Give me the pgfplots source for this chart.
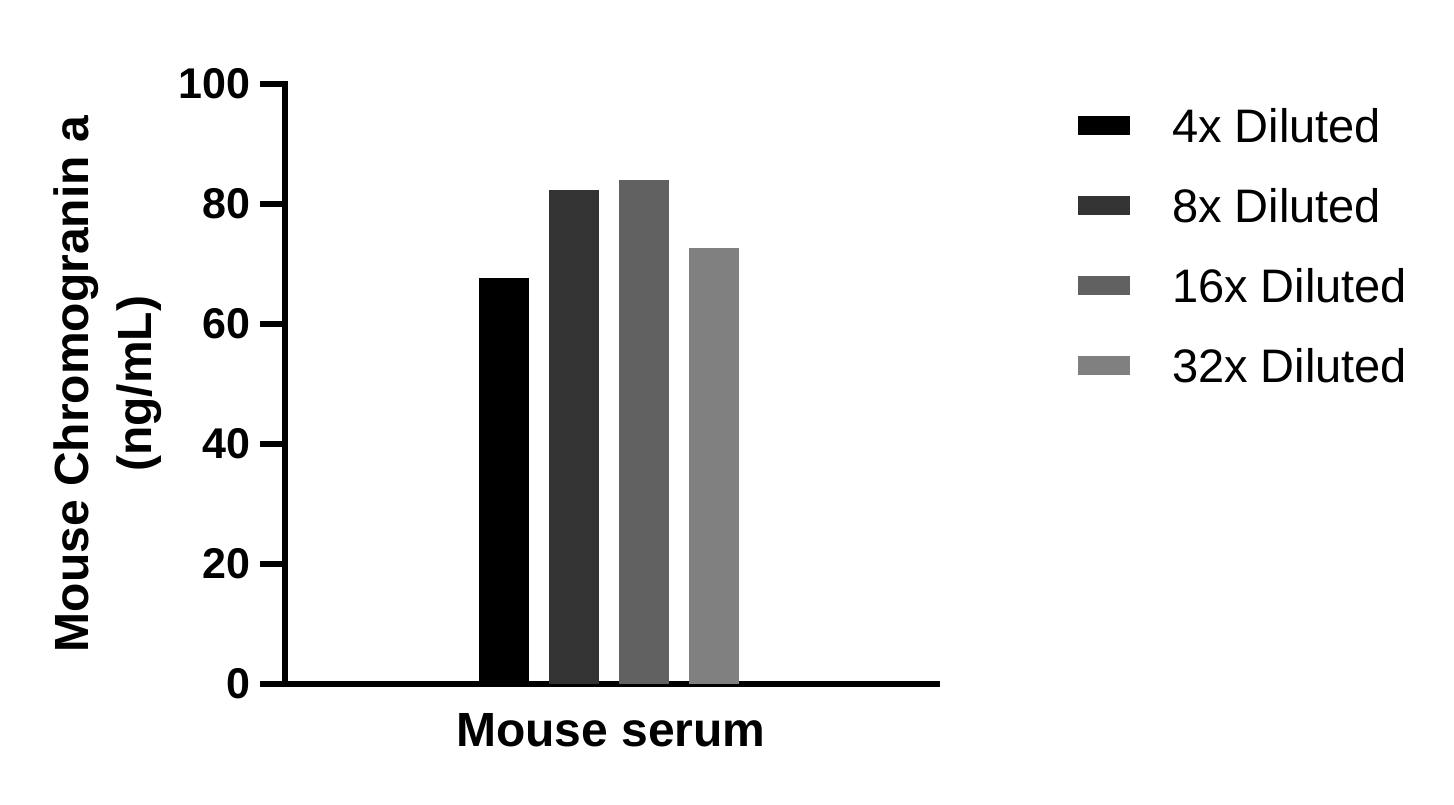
\documentclass[border=0pt]{standalone}
\usepackage{fontspec}
\setmainfont{Liberation Sans}
\usepackage{pgfplots}
\pgfplotsset{compat=1.18}
\definecolor{c1}{HTML}{000000}
\definecolor{c2}{HTML}{333333}
\definecolor{c3}{HTML}{616161}
\definecolor{c4}{HTML}{808080}
\begin{document}
\begin{tikzpicture}
\useasboundingbox (-142.5pt,-60pt) rectangle (584.5pt,342pt);
\begin{axis}[
  scale only axis,
  width=326pt, height=300pt,
  xmin=-0.994, xmax=1.006, ymin=0, ymax=100,
  axis lines=left,
  axis line style={-, line width=3pt, line cap=rect},
  xtick=\empty,
  ytick={0,20,40,60,80,100},
  tick align=outside,
  major tick length=12.5pt,
  tick style={line width=3pt, black},
  /pgf/number format/assume math mode=true,
  yticklabel style={font=\fontsize{21.5}{24}\selectfont\bfseries, inner sep=0pt, xshift=-4.5pt},
  ybar=10pt, bar width=25pt,
  ylabel={Mouse Chromogranin a\\(ng/mL)},
  ylabel style={font=\fontsize{24}{31.5}\selectfont\bfseries, align=center, inner sep=0pt,
    at={(axis description cs:-0.1887,0.5)}, anchor=south, rotate=0},
  xlabel={Mouse serum},
  xlabel style={font=\fontsize{24}{28}\selectfont\bfseries, inner sep=0pt,
    at={(axis description cs:0.5,-0.0483)}, anchor=north},
  legend image code/.code={\fill[#1] (0pt,-4.75pt) rectangle (26pt,4.75pt);},
  legend style={draw=none, fill=none, inner sep=0pt, outer sep=0pt,
    at={(axis description cs:1.2163,0.9983)}, anchor=north west,
    font=\fontsize{23.5}{28}\selectfont, row sep=0pt,
    nodes={inner sep=0pt, minimum height=40pt, text height=17pt, text depth=0pt},
    cells={anchor=west},
    /tikz/every odd column/.append style={column sep=21pt}},
  legend cell align=left,
]
\addplot[fill=c1, draw=none] coordinates {(0,67.6)};
\addplot[fill=c2, draw=none] coordinates {(0,82.3)};
\addplot[fill=c3, draw=none] coordinates {(0,84.0)};
\addplot[fill=c4, draw=none] coordinates {(0,72.6)};
\legend{4x Diluted, 8x Diluted, 16x Diluted, 32x Diluted}
\end{axis}
\end{tikzpicture}
\end{document}
